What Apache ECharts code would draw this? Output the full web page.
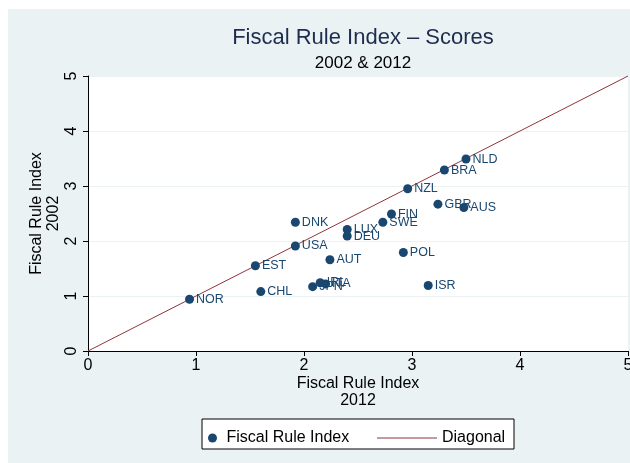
<!DOCTYPE html>
<html>
<head>
    <meta charset="utf-8">
    <title>Fiscal Rule Index</title>
    <script src="https://cdn.jsdelivr.net/npm/echarts@6/dist/echarts.min.js"></script>
</head>
<body style="margin:0">
    <div id="main" style="width: 630px;height:463px;"></div>
    <script type="text/javascript">
// country codes and scores
var countries = ['NOR', 'CHL', 'EST', 'USA', 'DNK', 'AUT', 'JPN', 'IRL', 'ITA', 'LUX', 'DEU',
    'POL', 'SWE', 'FIN', 'NZL', 'GBR', 'ISR', 'AUS', 'BRA', 'NLD'];
var fri2012 = [0.94, 1.60, 1.55, 1.92, 1.92, 2.24, 2.08, 2.15, 2.20, 2.40, 2.40,
    2.92, 2.73, 2.81, 2.96, 3.24, 3.15, 3.48, 3.30, 3.50];
var fri2002 = [0.94, 1.08, 1.55, 1.91, 2.34, 1.66, 1.17, 1.24, 1.22, 2.21, 2.09,
    1.79, 2.34, 2.49, 2.95, 2.67, 1.19, 2.61, 3.29, 3.49];
var diagonal = [[0, 0], [5, 5]];
var axisTicks = [0, 1, 2, 3, 4, 5];

var navy = '#1a476f';
var font = 'Liberation Sans';

var points = countries.map(function (c, i) {
    return { name: c, value: [fri2012[i], fri2002[i]] };
});

var myChart = echarts.init(document.getElementById('main'));
var option = {
    animation: false,
    backgroundColor: '#fff',
    textStyle: { fontFamily: font },
    graphic: [
        { type: 'rect', z: -10, shape: { x: 8, y: 9, width: 622, height: 454 }, style: { fill: '#eaf2f3' } },
        { type: 'rect', z: 1, shape: { x: 202, y: 419, width: 312, height: 30 },
          style: { fill: '#fff', stroke: '#000', lineWidth: 1 } }
    ],
    title: [
        { text: 'Fiscal Rule Index \u2013 Scores', left: 358, top: 22, textAlign: 'center',
          textStyle: { fontFamily: font, fontSize: 22, fontWeight: 'normal', color: '#1e2d4f' } },
        { text: '2002 & 2012', left: 358, top: 50, textAlign: 'center',
          textStyle: { fontFamily: font, fontSize: 17, fontWeight: 'normal', color: '#000' } }
    ],
    legend: [
        { data: ['Fiscal Rule Index'], left: 203, top: 425, itemWidth: 18, itemHeight: 9,
          icon: 'circle', textStyle: { fontFamily: font, fontSize: 16, color: '#000' } },
        { data: [{ name: 'Diagonal', icon: 'rect' }], left: 372, top: 425, itemWidth: 60, itemHeight: 1,
          textStyle: { fontFamily: font, fontSize: 16, color: '#000' } }
    ],
    grid: { left: 88, right: 2, top: 76, bottom: 112, show: true, backgroundColor: '#fff',
        borderWidth: 0, outerBoundsMode: 'none' },
    xAxis: {
        type: 'value', min: 0, max: 5, interval: 1,
        name: 'Fiscal Rule Index\n2012', nameLocation: 'middle', nameGap: 24, nameMoveOverlap: false,
        nameTextStyle: { fontFamily: font, fontSize: 16, color: '#000', lineHeight: 17 },
        axisLine: { lineStyle: { color: '#000', width: 1 } },
        axisTick: { show: true, length: 5, lineStyle: { color: '#000' } },
        axisLabel: { fontFamily: font, fontSize: 16, color: '#000', margin: 7, hideOverlap: false,
            formatter: function (v) { return axisTicks.indexOf(v) >= 0 ? String(v) : ''; } },
        splitLine: { show: false }
    },
    yAxis: {
        type: 'value', min: 0, max: 5, interval: 1,
        name: 'Fiscal Rule Index\n2002', nameLocation: 'middle', nameGap: 26, nameRotate: 90,
        nameMoveOverlap: false,
        nameTextStyle: { fontFamily: font, fontSize: 16, color: '#000', lineHeight: 17 },
        axisLine: { show: true, lineStyle: { color: '#000', width: 1 } },
        axisTick: { show: true, length: 5, lineStyle: { color: '#000' } },
        axisLabel: { fontFamily: font, fontSize: 16, color: '#000', rotate: 90, margin: 8 },
        splitLine: { show: true, lineStyle: { color: '#eaf2f3', width: 1 } }
    },
    series: [
        {
            name: 'Fiscal Rule Index',
            type: 'scatter',
            symbolSize: 9,
            itemStyle: { color: navy, opacity: 1 },
            label: {
                show: true, position: 'right', distance: 2,
                formatter: '{b}', color: navy, fontFamily: font, fontSize: 12.5
            },
            data: points,
            z: 3
        },
        {
            name: 'Diagonal',
            type: 'line',
            symbol: 'none',
            lineStyle: { color: '#90353b', width: 1 },
            itemStyle: { color: '#90353b' },
            data: diagonal,
            z: 2
        }
    ]
};
myChart.setOption(option);
    </script>
</body>
</html>
